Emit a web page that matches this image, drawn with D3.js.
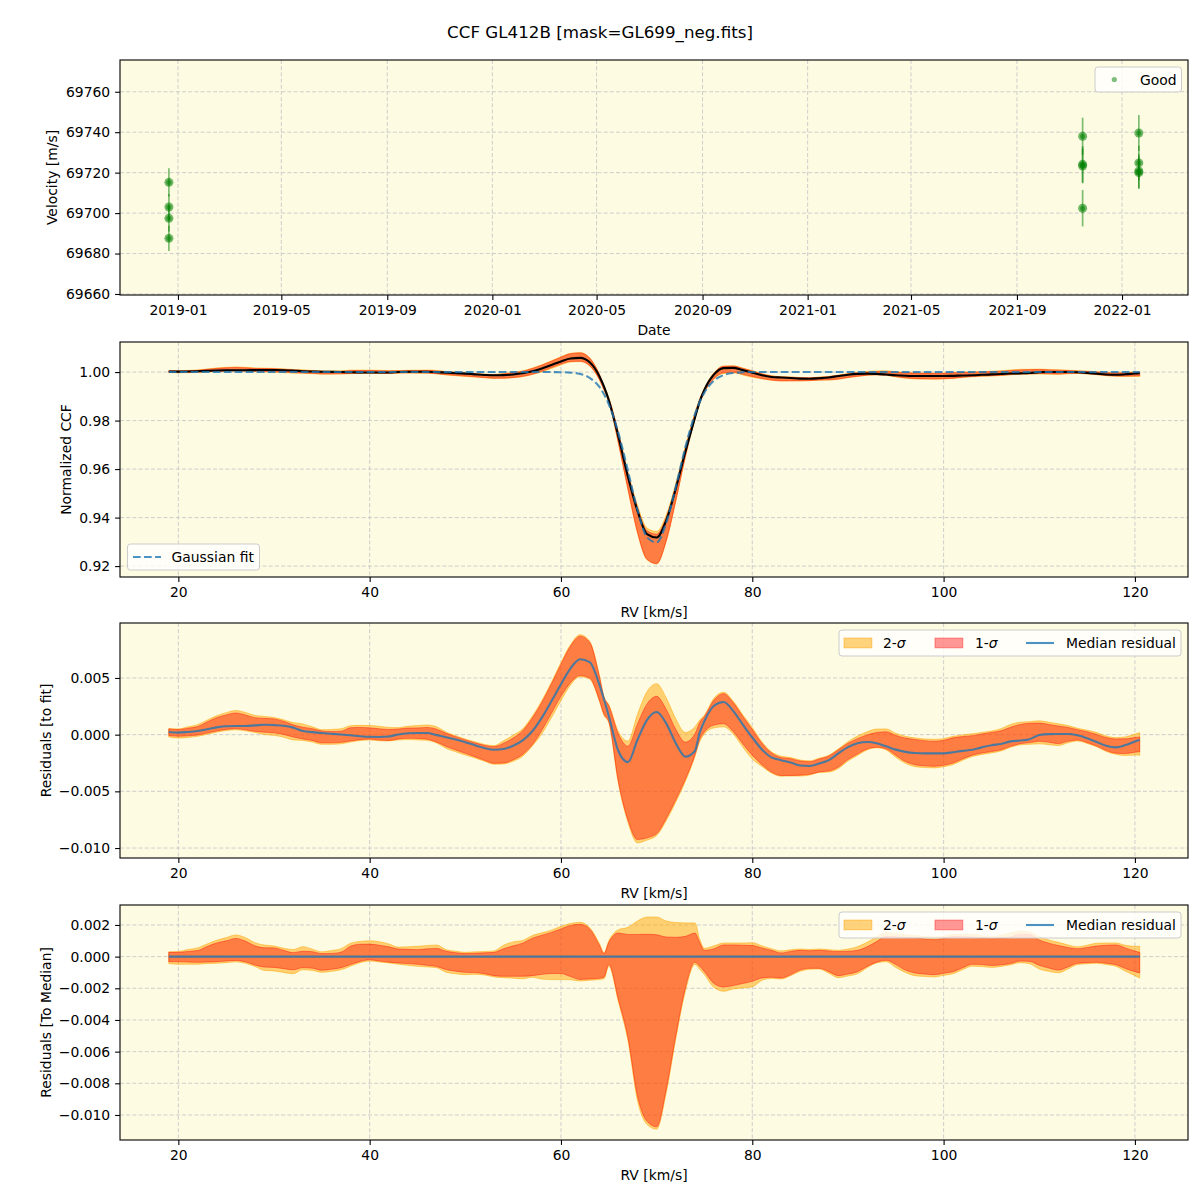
<!DOCTYPE html>
<html><head><meta charset="utf-8">
<script src="https://cdn.jsdelivr.net/npm/d3@7"></script>
<style>body{margin:0;background:#fff}</style>
</head><body><script>
// ---------------- DATA ----------------
// Top panel: radial velocity measurements
const obsDates = ["2018-12-21T12:00:00Z","2018-12-21T12:00:00Z","2018-12-21T12:00:00Z","2018-12-21T12:00:00Z",
                  "2021-11-16T06:00:00Z","2021-11-16T06:00:00Z","2021-11-16T06:00:00Z","2021-11-16T06:00:00Z",
                  "2022-01-20T12:00:00Z","2022-01-20T12:00:00Z","2022-01-20T12:00:00Z","2022-01-20T12:00:00Z"];
const obsVel = [69715.2, 69703.0, 69697.4, 69687.5, 69738.0, 69724.1, 69723.3, 69702.4, 69739.6, 69724.8, 69720.8, 69720.0];
const obsErr = [7.0, 6.5, 6.5, 6.2, 9.2, 9.0, 8.6, 9.0, 8.9, 8.5, 8.5, 8.0];

// RV grid [km/s]
const rvGrid = [19,20,21,22,23,24,25,26,27,28,29,30,31,32,33,34,35,36,37,38,39,40,41,42,43,44,45,46,47,48,49,50,51,52,53,54,55,56,57,58,59,60,61,62,63,64,64.5,65,66,67,68,69,70,71,72,73,74,74.5,75,76,77,78,79,80,81,82,83,84,85,86,87,88,89,90,91,92,93,94,95,96,97,98,99,100,101,102,103,104,105,106,107,108,109,110,111,112,113,114,115,116,117,118,119,120,120.5];

// Gaussian fit to the CCF
const gaussFit = [1,1,1,1,1,1,1,1,1,1,
  1,1,1,1,1,1,1,1,1,1,
  1,1,1,1,1,1,1,1,1,1,
  1,1,1,1,1,1,1,1,1,1,
  1.0,0.99994,0.99977,0.99921,0.99764,0.99396,
  0.99087,
  0.98672,0.97492,0.95928,0.94319,0.93187,0.92978,0.93779,0.95263,0.96900,0.98256,
  0.98764,
  0.99157,0.99650,0.99875,0.99962,0.99990,1.0,1,1,1,1,
  1,1,1,1,1,1,1,1,1,1,
  1,1,1,1,1,1,1,1,1,1,
  1,1,1,1,1,1,1,1,1,1,
  1,1,1,1,1,1,
  1];

// Median residual to fit [1e-3]
const medRes = [0.24,0.18,0.24,0.33,0.48,0.64,0.74,0.76,0.76,0.82,
  0.88,0.84,0.78,0.62,0.32,0.22,0.14,0.08,0.02,-0.05,
  -0.14,-0.19,-0.20,-0.16,0.02,0.12,0.15,0.15,-0.04,-0.22,
  -0.43,-0.66,-0.93,-1.18,-1.33,-1.26,-0.98,-0.50,0.30,1.50,
  2.95,4.45,5.85,6.65,6.40,4.45,
  3.10,
  1.65,-1.44,-2.42,-0.45,1.30,2.00,1.00,-0.75,-1.94,-1.44,
  0.18,
  1.20,2.55,2.88,2.10,0.90,-0.25,-1.30,-2.00,-2.25,-2.45,
  -2.72,-2.76,-2.55,-2.25,-1.65,-1.10,-0.75,-0.65,-0.76,-1.03,
  -1.32,-1.52,-1.62,-1.65,-1.65,-1.65,-1.55,-1.43,-1.33,-1.12,
  -0.93,-0.82,-0.59,-0.52,-0.40,-0.03,0.05,0.06,0.06,-0.06,
  -0.32,-0.65,-0.98,-1.12,-0.92,-0.60,
  -0.47];

// Percentile bands relative to median [1e-3]
const sig1Hi = [0.27,0.27,0.33,0.38,0.64,0.86,1.00,1.15,0.98,0.68,
  0.56,0.55,0.40,0.25,0.34,0.31,0.19,0.20,0.28,0.66,
  0.78,0.79,0.72,0.62,0.48,0.46,0.44,0.49,0.52,0.34,
  0.25,0.19,0.21,0.24,0.27,0.50,0.68,0.85,1.16,1.35,
  1.53,1.75,1.97,2.04,1.75,0.75,
  0.19,
  0.90,1.49,1.40,1.40,1.41,1.38,1.24,1.22,1.28,1.49,
  0.90,
  0.40,0.50,0.74,0.74,0.72,0.70,0.55,0.40,0.23,0.33,
  0.40,0.37,0.40,0.36,0.32,0.34,0.40,0.62,0.95,1.28,
  1.25,1.22,1.20,1.12,1.07,1.15,1.27,1.26,1.24,1.18,
  1.13,1.16,1.24,1.42,1.40,1.05,0.85,0.70,0.58,0.50,
  0.58,0.67,0.72,0.74,0.55,0.35,
  0.27];
const sig2Hi = [0.30,0.32,0.45,0.55,0.80,1.03,1.20,1.37,1.20,0.88,
  0.73,0.67,0.53,0.45,0.63,0.47,0.30,0.38,0.50,0.84,
  0.96,1.00,0.94,0.80,0.60,0.62,0.65,0.70,0.73,0.44,
  0.34,0.27,0.30,0.32,0.36,0.72,0.93,1.02,1.33,1.50,
  1.67,1.92,2.09,2.17,1.83,0.85,
  0.25,
  1.00,1.70,1.85,2.25,2.50,2.50,2.25,2.15,2.13,2.13,
  1.10,
  0.53,0.68,0.86,0.86,0.86,0.88,0.68,0.50,0.36,0.43,
  0.48,0.45,0.48,0.44,0.40,0.48,0.63,0.90,1.25,1.54,
  1.44,1.38,1.33,1.27,1.24,1.30,1.40,1.41,1.41,1.32,
  1.25,1.35,1.49,1.62,1.55,1.25,1.05,0.90,0.74,0.62,
  0.72,0.84,0.86,0.86,0.72,0.65,
  0.65];
const sig1Lo = [-0.32,-0.32,-0.34,-0.36,-0.34,-0.32,-0.28,-0.24,-0.33,-0.53,
  -0.66,-0.68,-0.76,-0.83,-0.70,-0.73,-0.86,-0.80,-0.70,-0.50,
  -0.30,-0.20,-0.28,-0.35,-0.40,-0.44,-0.48,-0.55,-0.62,-0.82,
  -0.92,-0.99,-1.01,-1.08,-1.20,-1.24,-1.24,-1.24,-1.20,-1.12,
  -1.07,-1.07,-1.26,-1.44,-1.41,-1.37,
  -1.30,
  -0.50,-2.70,-5.10,-8.80,-10.40,-10.75,-8.40,-5.00,-2.00,-0.36,
  -0.61,
  -0.95,-1.70,-1.92,-1.83,-1.70,-1.56,-1.35,-1.30,-1.35,-1.15,
  -0.85,-0.74,-0.74,-0.95,-1.20,-1.10,-0.95,-0.62,-0.35,-0.23,
  -0.50,-0.85,-1.03,-1.10,-1.14,-1.05,-0.95,-0.70,-0.48,-0.50,
  -0.56,-0.52,-0.44,-0.28,-0.30,-0.55,-0.72,-0.85,-0.65,-0.42,
  -0.38,-0.36,-0.42,-0.51,-0.75,-0.95,
  -1.03];
const sig2Lo = [-0.44,-0.48,-0.48,-0.48,-0.44,-0.42,-0.38,-0.33,-0.42,-0.62,
  -0.87,-0.90,-1.00,-1.08,-0.83,-0.87,-0.99,-0.93,-0.83,-0.60,
  -0.38,-0.28,-0.34,-0.40,-0.48,-0.55,-0.61,-0.65,-0.70,-0.99,
  -1.08,-1.14,-1.12,-1.16,-1.28,-1.33,-1.36,-1.40,-1.30,-1.42,
  -1.45,-1.45,-1.46,-1.54,-1.49,-1.45,
  -1.40,
  -0.60,-2.85,-5.30,-9.10,-10.60,-10.90,-8.60,-5.20,-2.20,-0.50,
  -0.80,
  -1.14,-1.95,-2.19,-2.04,-1.98,-1.90,-1.50,-1.38,-1.41,-1.20,
  -0.93,-0.80,-0.78,-1.05,-1.33,-1.22,-1.08,-0.70,-0.40,-0.32,
  -0.68,-1.00,-1.20,-1.25,-1.28,-1.18,-1.08,-0.82,-0.60,-0.63,
  -0.68,-0.62,-0.52,-0.38,-0.45,-0.78,-0.93,-1.02,-0.78,-0.50,
  -0.45,-0.42,-0.50,-0.61,-0.92,-1.20,
  -1.35];

// Tick labels
const dateTicks = ["2019-01-01","2019-05-01","2019-09-01","2020-01-01","2020-05-01","2020-09-01","2021-01-01","2021-05-01","2021-09-01","2022-01-01"];
const velTicks = [69660,69680,69700,69720,69740,69760];
const rvTicks = [20,40,60,80,100,120];
const ccfTicks = [0.92,0.94,0.96,0.98,1.00];
const resTicks = [-0.010,-0.005,0.000,0.005];
const medTicks = [-0.010,-0.008,-0.006,-0.004,-0.002,0.000,0.002];

// ---------------- LAYOUT ----------------
const N = rvGrid.length;
[gaussFit, medRes, sig1Hi, sig2Hi, sig1Lo, sig2Lo].forEach((a,i)=>{ if(a.length!==N) console.error("length mismatch", i, a.length, N); });

const FONT = "DejaVu Sans", FS = 13.9;
const L = 120, R = 1188, H = 235;
const tops = [60, 342, 623, 905];
const BG = "#fdfbe2";
const ORANGE = "#ffa500", RED = "#ff0000", BLUE = "#1f77b4", GREEN = "#008000";

const svg = d3.select("body").append("svg").attr("width",1200).attr("height",1200).style("display","block");
svg.append("rect").attr("width",1200).attr("height",1200).attr("fill","#fff");
const defs = svg.append("defs");

svg.append("text").attr("x",600).attr("y",32).attr("text-anchor","middle").attr("dominant-baseline","central")
  .attr("font-family",FONT).attr("font-size",16.7).text("CCF GL412B [mask=GL699_neg.fits]");

function makePanel(i, x, y, xTicks, yTicks) {
  const t = tops[i];
  const g = svg.append("g");
  g.append("rect").attr("x",L).attr("y",t).attr("width",R-L).attr("height",H).attr("fill",BG);
  const grid = g.append("g").attr("stroke","#c8c8c8").attr("stroke-width",0.9).attr("stroke-dasharray","4,2.2");
  xTicks.forEach(v=>grid.append("line").attr("x1",x(v)).attr("x2",x(v)).attr("y1",t).attr("y2",t+H));
  yTicks.forEach(v=>grid.append("line").attr("x1",L).attr("x2",R).attr("y1",y(v)).attr("y2",y(v)));
  defs.append("clipPath").attr("id","clip"+i).append("rect").attr("x",L).attr("y",t).attr("width",R-L).attr("height",H);
  const plot = g.append("g").attr("clip-path",`url(#clip${i})`);
  return {g, plot, t};
}
function finishPanel(p, x, y, xTicks, xFmt, yTicks, yFmt, xLabel, xLabelY, yLabel, yLabelX) {
  const {g, t} = p;
  const xa = g.append("g").attr("transform",`translate(0,${t+H})`)
    .call(d3.axisBottom(x).tickValues(xTicks).tickFormat(xFmt).tickSize(4.9).tickPadding(4.9));
  const ya = g.append("g").attr("transform",`translate(${L},0)`)
    .call(d3.axisLeft(y).tickValues(yTicks).tickFormat(yFmt).tickSize(4.9).tickPadding(4.9));
  [xa, ya].forEach(a=>{
    a.select(".domain").remove();
    a.attr("font-family",FONT).attr("font-size",FS);
    a.selectAll("line").attr("stroke","#000").attr("stroke-width",1.1);
    a.selectAll("text").attr("fill","#000");
  });
  g.append("rect").attr("x",L).attr("y",t).attr("width",R-L).attr("height",H)
    .attr("fill","none").attr("stroke","#000").attr("stroke-width",1.1);
  g.append("text").attr("x",(L+R)/2).attr("y",xLabelY).attr("text-anchor","middle").attr("dominant-baseline","central")
    .attr("font-family",FONT).attr("font-size",FS).text(xLabel);
  g.append("text").attr("transform",`translate(${yLabelX},${t+H/2}) rotate(-90)`).attr("text-anchor","middle")
    .attr("dominant-baseline","central").attr("font-family",FONT).attr("font-size",FS).text(yLabel);
}
function legendFrame(g, x0, y0, w, h) {
  g.append("rect").attr("x",x0).attr("y",y0).attr("width",w).attr("height",h).attr("rx",3)
    .attr("fill","#fff").attr("fill-opacity",0.8).attr("stroke","#cccccc").attr("stroke-width",1);
}
function legendText(g, x0, yc, parts) {
  const t = g.append("text").attr("x",x0).attr("y",yc).attr("dominant-baseline","central")
    .attr("font-family",FONT).attr("font-size",FS);
  parts.forEach(p=>t.append("tspan").attr("font-style",p[1]?"italic":"normal").text(p[0]));
}
function sigmaLegend(g, y0) {
  legendFrame(g, 839, y0, 342, 26);
  const yc = y0 + 13;
  g.append("rect").attr("x",844).attr("y",yc-4.9).attr("width",27.8).attr("height",9.7)
    .attr("fill",ORANGE).attr("fill-opacity",0.5).attr("stroke",ORANGE).attr("stroke-opacity",0.5);
  legendText(g, 883, yc, [["2-",false],["σ",true]]);
  g.append("rect").attr("x",935).attr("y",yc-4.9).attr("width",27.8).attr("height",9.7)
    .attr("fill",RED).attr("fill-opacity",0.4).attr("stroke",RED).attr("stroke-opacity",0.4);
  legendText(g, 975, yc, [["1-",false],["σ",true]]);
  g.append("line").attr("x1",1026).attr("x2",1054).attr("y1",yc).attr("y2",yc)
    .attr("stroke",BLUE).attr("stroke-opacity",0.8).attr("stroke-width",2.1);
  legendText(g, 1066, yc, [["Median residual",false]]);
}

// ---------------- PANEL 1: velocities ----------------
{
  const x = d3.scaleUtc().domain([new Date("2018-10-25T17:00:00Z"), new Date("2022-03-18T14:00:00Z")]).range([L,R]);
  const y = d3.scaleLinear().domain([69659.5, 69775.7]).range([tops[0]+H, tops[0]]);
  const xT = dateTicks.map(s=>new Date(s+"T00:00:00Z"));
  const p = makePanel(0, x, y, xT, velTicks);
  const pts = obsDates.map((d,i)=>({d:new Date(d), v:obsVel[i], e:obsErr[i]}));
  p.plot.selectAll("line.eb").data(pts).join("line").attr("class","eb")
    .attr("x1",d=>x(d.d)).attr("x2",d=>x(d.d)).attr("y1",d=>y(d.v-d.e)).attr("y2",d=>y(d.v+d.e))
    .attr("stroke",GREEN).attr("stroke-opacity",0.5).attr("stroke-width",1.7);
  p.plot.selectAll("circle.pt").data(pts).join("circle").attr("class","pt")
    .attr("cx",d=>x(d.d)).attr("cy",d=>y(d.v)).attr("r",4.5)
    .attr("fill",GREEN).attr("fill-opacity",0.55);
  p.plot.selectAll("circle.pc").data(pts).join("circle").attr("class","pc")
    .attr("cx",d=>x(d.d)).attr("cy",d=>y(d.v)).attr("r",2.6)
    .attr("fill",GREEN).attr("fill-opacity",0.5);
  finishPanel(p, x, y, xT, d3.utcFormat("%Y-%m"), velTicks, d3.format("d"), "Date", 330, "Velocity [m/s]", 52);
  legendFrame(p.g, 1095, 67, 86.5, 25);
  p.g.append("circle").attr("cx",1114.3).attr("cy",79.5).attr("r",2.6).attr("fill",GREEN).attr("fill-opacity",0.5);
  legendText(p.g, 1140, 79.5, [["Good",false]]);
}

const xRV = (i)=> d3.scaleLinear().domain([13.9, 125.55]).range([L,R]);
const idx = d3.range(N);

// ---------------- PANEL 2: CCF ----------------
{
  const x = xRV(1);
  const y = d3.scaleLinear().domain([0.9155, 1.0124]).range([tops[1]+H, tops[1]]);
  const p = makePanel(1, x, y, rvTicks, ccfTicks);
  const ccf = i => gaussFit[i] + medRes[i]*1e-3;
  const band = (lo, hi) => d3.area().curve(d3.curveMonotoneX).x(i=>x(rvGrid[i]))
      .y0(i=>y(ccf(i)+lo[i]*1e-3)).y1(i=>y(ccf(i)+hi[i]*1e-3));
  p.plot.append("path").attr("d",band(sig2Lo,sig2Hi)(idx))
    .attr("fill",ORANGE).attr("fill-opacity",0.5).attr("stroke",ORANGE).attr("stroke-opacity",0.5);
  p.plot.append("path").attr("d",band(sig1Lo,sig1Hi)(idx))
    .attr("fill",RED).attr("fill-opacity",0.4).attr("stroke",RED).attr("stroke-opacity",0.4);
  p.plot.append("path").attr("d",d3.line().curve(d3.curveMonotoneX).x(i=>x(rvGrid[i])).y(i=>y(ccf(i)))(idx))
    .attr("fill","none").attr("stroke","#000").attr("stroke-width",2.1);
  p.plot.append("path").attr("d",d3.line().curve(d3.curveMonotoneX).x(i=>x(rvGrid[i])).y(i=>y(gaussFit[i]))(idx))
    .attr("fill","none").attr("stroke",BLUE).attr("stroke-opacity",0.8).attr("stroke-width",2.1).attr("stroke-dasharray","7.7,3.3");
  finishPanel(p, x, y, rvTicks, d3.format("d"), ccfTicks, d3.format(".2f"), "RV [km/s]", 612, "Normalized CCF", 66);
  legendFrame(p.g, 127.5, 544, 132, 26);
  p.g.append("line").attr("x1",133).attr("x2",161).attr("y1",557).attr("y2",557)
    .attr("stroke",BLUE).attr("stroke-opacity",0.8).attr("stroke-width",2.1).attr("stroke-dasharray","7.7,3.3");
  legendText(p.g, 171.5, 557, [["Gaussian fit",false]]);
}

// ---------------- PANEL 3: residuals to fit ----------------
{
  const x = xRV(2);
  const y = d3.scaleLinear().domain([-0.01088, 0.00985]).range([tops[2]+H, tops[2]]);
  const p = makePanel(2, x, y, rvTicks, resTicks);
  const band = (lo, hi) => d3.area().curve(d3.curveMonotoneX).x(i=>x(rvGrid[i]))
      .y0(i=>y((medRes[i]+lo[i])*1e-3)).y1(i=>y((medRes[i]+hi[i])*1e-3));
  p.plot.append("path").attr("d",band(sig2Lo,sig2Hi)(idx))
    .attr("fill",ORANGE).attr("fill-opacity",0.5).attr("stroke",ORANGE).attr("stroke-opacity",0.5);
  p.plot.append("path").attr("d",band(sig1Lo,sig1Hi)(idx))
    .attr("fill",RED).attr("fill-opacity",0.4).attr("stroke",RED).attr("stroke-opacity",0.4);
  p.plot.append("path").attr("d",d3.line().curve(d3.curveMonotoneX).x(i=>x(rvGrid[i])).y(i=>y(medRes[i]*1e-3))(idx))
    .attr("fill","none").attr("stroke",BLUE).attr("stroke-opacity",0.8).attr("stroke-width",2.1);
  finishPanel(p, x, y, rvTicks, d3.format("d"), resTicks, d3.format(".3f"), "RV [km/s]", 893, "Residuals [to fit]", 46);
  sigmaLegend(p.g, 630);
}

// ---------------- PANEL 4: residuals to median ----------------
{
  const x = xRV(3);
  const y = d3.scaleLinear().domain([-0.01158, 0.00326]).range([tops[3]+H, tops[3]]);
  const p = makePanel(3, x, y, rvTicks, medTicks);
  const band = (lo, hi) => d3.area().curve(d3.curveMonotoneX).x(i=>x(rvGrid[i]))
      .y0(i=>y(lo[i]*1e-3)).y1(i=>y(hi[i]*1e-3));
  p.plot.append("path").attr("d",band(sig2Lo,sig2Hi)(idx))
    .attr("fill",ORANGE).attr("fill-opacity",0.5).attr("stroke",ORANGE).attr("stroke-opacity",0.5);
  p.plot.append("path").attr("d",band(sig1Lo,sig1Hi)(idx))
    .attr("fill",RED).attr("fill-opacity",0.4).attr("stroke",RED).attr("stroke-opacity",0.4);
  p.plot.append("path").attr("d",d3.line().x(i=>x(rvGrid[i])).y(i=>y((medRes[i]-medRes[i])*1e-3))(idx))
    .attr("fill","none").attr("stroke",BLUE).attr("stroke-opacity",0.8).attr("stroke-width",2.1);
  finishPanel(p, x, y, rvTicks, d3.format("d"), medTicks, d3.format(".3f"), "RV [km/s]", 1175, "Residuals [To Median]", 46);
  sigmaLegend(p.g, 912);
}
</script></body></html>
